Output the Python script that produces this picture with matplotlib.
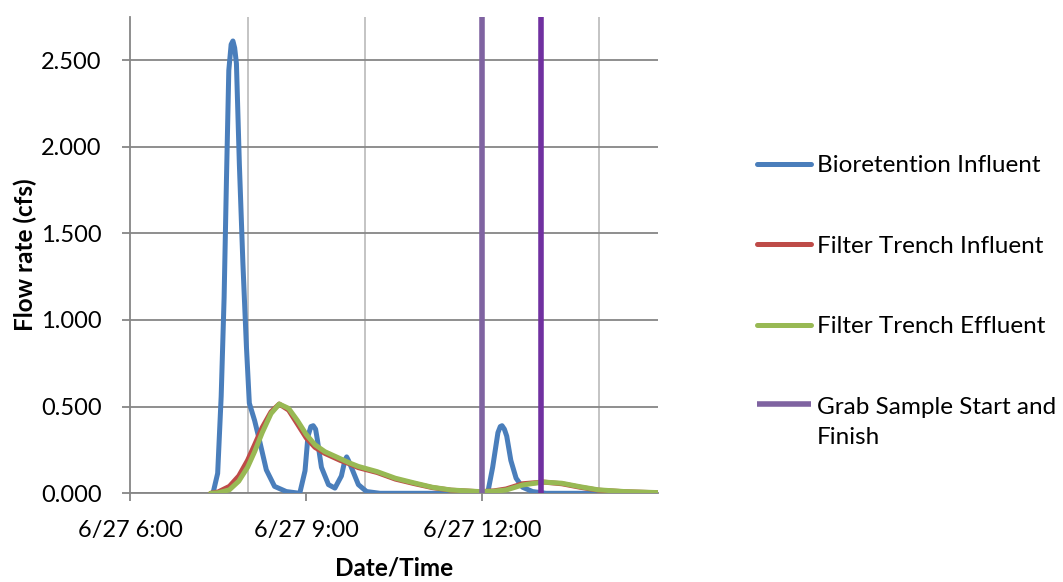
import matplotlib
matplotlib.use("Agg")
import matplotlib.pyplot as plt
from matplotlib.ticker import FixedLocator, NullFormatter

plt.rcParams['font.family'] = ['Lato', 'DejaVu Sans']

# ---- data (x = hour of day on 6/27) ----
bio_t = [7.41, 7.49, 7.55, 7.60, 7.64, 7.68, 7.72, 7.75, 7.78, 7.81, 7.86, 7.92, 7.98,
         8.03, 8.12, 8.20, 8.32, 8.46, 8.66, 8.89, 8.98, 9.03, 9.08, 9.12, 9.16, 9.19,
         9.26, 9.38, 9.49, 9.60, 9.66, 9.69, 9.72, 9.77, 9.89, 10.03, 10.26, 11.5,
         12.02, 12.10, 12.18, 12.27, 12.31, 12.34, 12.38, 12.42, 12.49, 12.58, 12.69,
         12.86, 13.09, 15.0]
bio_q = [0, 0.115, 0.56, 1.13, 1.81, 2.44, 2.59, 2.61, 2.57, 2.48, 1.90, 1.33, 0.85,
         0.52, 0.42, 0.31, 0.135, 0.04, 0.01, 0, 0.13, 0.33, 0.385, 0.39, 0.37, 0.31,
         0.15, 0.05, 0.03, 0.10, 0.19, 0.21, 0.19, 0.15, 0.05, 0.01, 0, 0,
         0, 0.01, 0.15, 0.35, 0.385, 0.39, 0.37, 0.33, 0.19, 0.087, 0.035,
         0.01, 0, 0]

ft_t = [7.37, 7.50, 7.69, 7.85, 8.00, 8.12, 8.25, 8.40, 8.54, 8.70, 8.85, 9.00, 9.15,
        9.32, 9.58, 9.74, 9.89, 10.21, 10.52, 10.84, 11.15, 11.47, 11.95, 12.20, 12.41,
        12.69, 13.04, 13.36, 13.67, 13.98, 14.43, 15.0]
ft_inf_q = [0, 0.008, 0.04, 0.10, 0.19, 0.28, 0.38, 0.47, 0.515, 0.48, 0.40, 0.32, 0.265,
            0.23, 0.19, 0.17, 0.148, 0.12, 0.082, 0.056, 0.033, 0.018, 0.009, 0.014, 0.025,
            0.055, 0.065, 0.055, 0.035, 0.018, 0.009, 0.003]
ft_eff_q = [0, 0.003, 0.02, 0.07, 0.15, 0.24, 0.35, 0.46, 0.515, 0.49, 0.42, 0.34, 0.28,
            0.24, 0.20, 0.175, 0.155, 0.125, 0.087, 0.06, 0.035, 0.019, 0.01, 0.012, 0.019,
            0.048, 0.065, 0.058, 0.038, 0.02, 0.01, 0.004]

grab_start_t = [12.0, 12.0]
grab_finish_t = [13.0, 13.0]
grab_q = [0, 2.75]

x_tick_hours = [6, 9, 12]
x_tick_labels = ["6/27 6:00", "6/27 9:00", "6/27 12:00"]
x_grid_hours = [8, 10, 12, 14]
y_ticks = [0, 0.5, 1.0, 1.5, 2.0, 2.5]

# ---- figure ----
W, H = 1063, 582
fig = plt.figure(figsize=(W / 100, H / 100), dpi=100)
x0, x1 = 130.3, 658.0
y0, y1 = 493.3, 16.7
ax = fig.add_axes([x0 / W, 1 - y0 / H, (x1 - x0) / W, (y0 - y1) / H])

blue = '#4A7EBB'
red = '#BE4B48'
green = '#98B954'
purple_l = '#7F63A1'
purple_d = '#7030A0'

ax.plot(bio_t, bio_q, color=blue, lw=3.6, solid_joinstyle='round',
        solid_capstyle='round', label='Bioretention Influent', zorder=3)
ax.plot(ft_t, ft_inf_q, color=red, lw=3.6, solid_joinstyle='round',
        solid_capstyle='round', label='Filter Trench Influent', zorder=4)
ax.plot(ft_t, ft_eff_q, color=green, lw=3.6, solid_joinstyle='round',
        solid_capstyle='round', label='Filter Trench Effluent', zorder=5)
ax.plot(grab_start_t, grab_q, color=purple_l, lw=4, solid_capstyle='butt',
        label='Grab Sample Start and\nFinish', zorder=6)
ax.plot(grab_finish_t, grab_q, color=purple_d, lw=4, solid_capstyle='butt', zorder=6)

ax.set_xlim(6, 15)
ax.set_ylim(0, 2.75)

for s in ['top', 'right']:
    ax.spines[s].set_visible(False)
for s in ['left', 'bottom']:
    ax.spines[s].set_color('#868686')
    ax.spines[s].set_linewidth(1.3)

ax.yaxis.set_major_locator(FixedLocator(y_ticks))
ax.set_yticklabels([f"{v:.3f}" for v in y_ticks])
ax.xaxis.set_major_locator(FixedLocator(x_tick_hours))
ax.set_xticklabels(x_tick_labels)
ax.xaxis.set_minor_locator(FixedLocator(x_grid_hours))
ax.xaxis.set_minor_formatter(NullFormatter())

tfs = 17
ax.tick_params(axis='y', which='major', length=5.5, width=1.3, color='#868686',
               pad=15, labelsize=tfs, labelcolor='black')
ax.tick_params(axis='x', which='major', length=5.5, width=1.3, color='#868686',
               pad=14, labelsize=tfs, labelcolor='black')
ax.tick_params(axis='x', which='minor', length=0)

ax.grid(axis='y', which='major', color='#868686', lw=1.3, zorder=0)
ax.grid(axis='x', which='minor', color='#BFBFBF', lw=1.3, zorder=0)
ax.set_axisbelow(True)

ax.set_ylabel('Flow rate (cfs)', fontsize=17.5, fontweight='bold')
ax.yaxis.set_label_coords((25 - x0) / (x1 - x0), 0.5)
ax.yaxis.label.set_va('center')
ax.set_xlabel('Date/Time', fontsize=17.5, fontweight='bold')
ax.xaxis.set_label_coords(0.5, (y0 - 568) / (y0 - y1))
ax.xaxis.label.set_va('center')

fs = 17.5
fpx = fs * 100 / 72
leg = ax.legend(loc='upper left', bbox_to_anchor=(757 / W, 1 - 155 / H),
                bbox_transform=fig.transFigure, frameon=False, fontsize=fs,
                handlelength=54 / fpx, handletextpad=6 / fpx,
                labelspacing=2.45, borderpad=0, borderaxespad=0)
# two-line entry: wider line pitch, handle aligned with its first text line
try:
    leg.get_texts()[-1].set_linespacing(1.55)
    hl = leg.legend_handles[-1]
    yd = hl.get_ydata()
    hl.set_ydata([v + 13.5 for v in yd])
except Exception:
    pass

fig.savefig('out.png', dpi=100)
